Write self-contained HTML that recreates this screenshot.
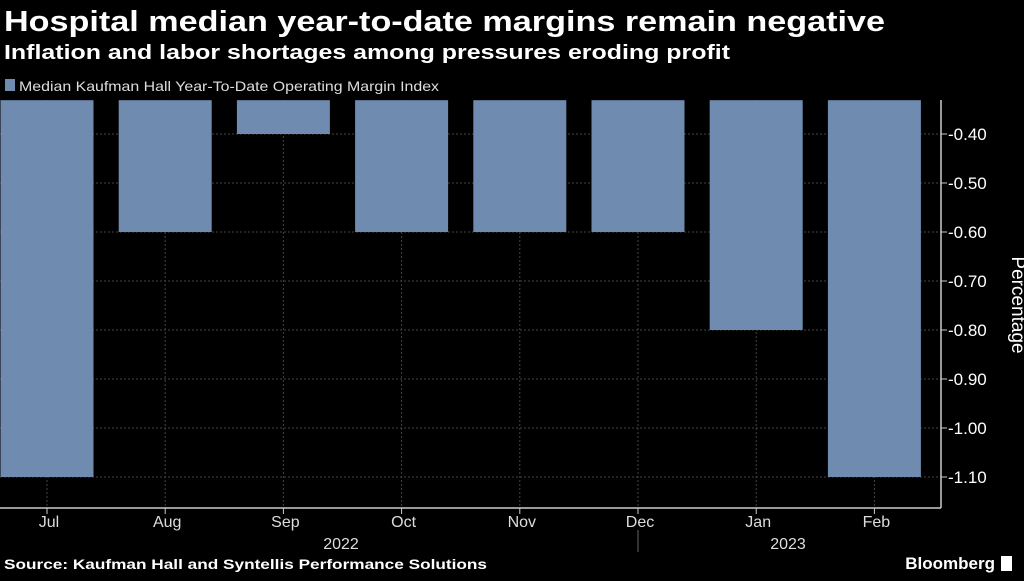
<!DOCTYPE html>
<html><head><meta charset="utf-8"><style>
body{margin:0;width:1024px;height:576px;background:#000;overflow:hidden;font-family:"Liberation Sans",sans-serif;color:#fff}
</style></head><body>
<svg width="1024" height="576" id="c">
<text x="4" y="31" font-size="29" font-weight="bold" fill="#fff" textLength="881" lengthAdjust="spacingAndGlyphs">Hospital median year-to-date margins remain negative</text>
<text x="4" y="59" font-size="20" font-weight="bold" fill="#fff" textLength="726" lengthAdjust="spacingAndGlyphs">Inflation and labor shortages among pressures eroding profit</text>
<rect x="5" y="79" width="10" height="12" fill="#6f8bb0"/>
<text x="19" y="91" font-size="14" fill="#ddd" textLength="420" lengthAdjust="spacingAndGlyphs">Median Kaufman Hall Year-To-Date Operating Margin Index</text>
<g id="grid"></g><g id="bars"></g><g id="axis"></g>
<line x1="941" y1="100" x2="941" y2="508" stroke="#ccc" stroke-width="1.5"/>
<line x1="0" y1="508" x2="941" y2="508" stroke="#ccc" stroke-width="1.5"/>
<text x="1012" y="305" font-size="19" fill="#fff" text-anchor="middle" transform="rotate(90 1012 305)">Percentage</text>
<text x="341" y="549" font-size="16" fill="#ddd" text-anchor="middle">2022</text>
<text x="788" y="549" font-size="16" fill="#ddd" text-anchor="middle">2023</text>
<line x1="638" y1="530" x2="638" y2="552" stroke="#666"/>
<text x="4" y="569" font-size="14" font-weight="bold" fill="#fff" textLength="483" lengthAdjust="spacingAndGlyphs">Source: Kaufman Hall and Syntellis Performance Solutions</text>
<text x="995" y="569" font-size="17" font-weight="bold" fill="#fff" text-anchor="end">Bloomberg</text>
<rect x="1001" y="556" width="11" height="15" fill="#fff"/>
</svg>
<script>
const categories=["Jul","Aug","Sep","Oct","Nov","Dec","Jan","Feb"];
const values=[-1.1,-0.6,-0.4,-0.6,-0.6,-0.6,-0.8,-1.1];
const ticks=[-0.4,-0.5,-0.6,-0.7,-0.8,-0.9,-1.0,-1.1];
const tickLabels=["-0.40","-0.50","-0.60","-0.70","-0.80","-0.90","-1.00","-1.10"];
const NS="http://www.w3.org/2000/svg";
function y(v){return 134+(-0.4-v)*490;}
function xc(i){return 47+i*118.2;}
const topV=-0.331;
const g=document.getElementById('grid'),b=document.getElementById('bars'),a=document.getElementById('axis');
function mk(p,t,at){const e=document.createElementNS(NS,t);for(const k in at)e.setAttribute(k,at[k]);p.appendChild(e);return e;}
ticks.forEach((t,i)=>{
 const l=mk(g,'line',{x1:0,x2:941,y1:y(t),y2:y(t),stroke:'#444','stroke-dasharray':'2,2'});
 
 
 const tk=mk(a,'line',{x1:941,x2:947,y1:y(t),y2:y(t),stroke:'#ccc'});
 
 
 const tx=mk(a,'text',{x:948,y:y(t)+6,'font-size':17,fill:'#fff'});
 tx.textContent=tickLabels[i];
 
 
});
categories.forEach((c,i)=>{
 const l=mk(g,'line',{x1:xc(i),x2:xc(i),y1:100,y2:508,stroke:'#444','stroke-dasharray':'2,2'});
 
 
 const r=mk(b,'rect',{x:xc(i)-46.5,width:93,y:y(topV),height:y(values[i])-y(topV),fill:'#6f8bb0'});
 
 
 const tk=mk(a,'line',{x1:xc(i),x2:xc(i),y1:508,y2:514,stroke:'#ccc'});
 
 
 const tx=mk(a,'text',{x:xc(i)+2,y:527,'font-size':16,fill:'#ddd','text-anchor':'middle'});
 tx.textContent=c;
 
 
});
</script>
</body></html>
